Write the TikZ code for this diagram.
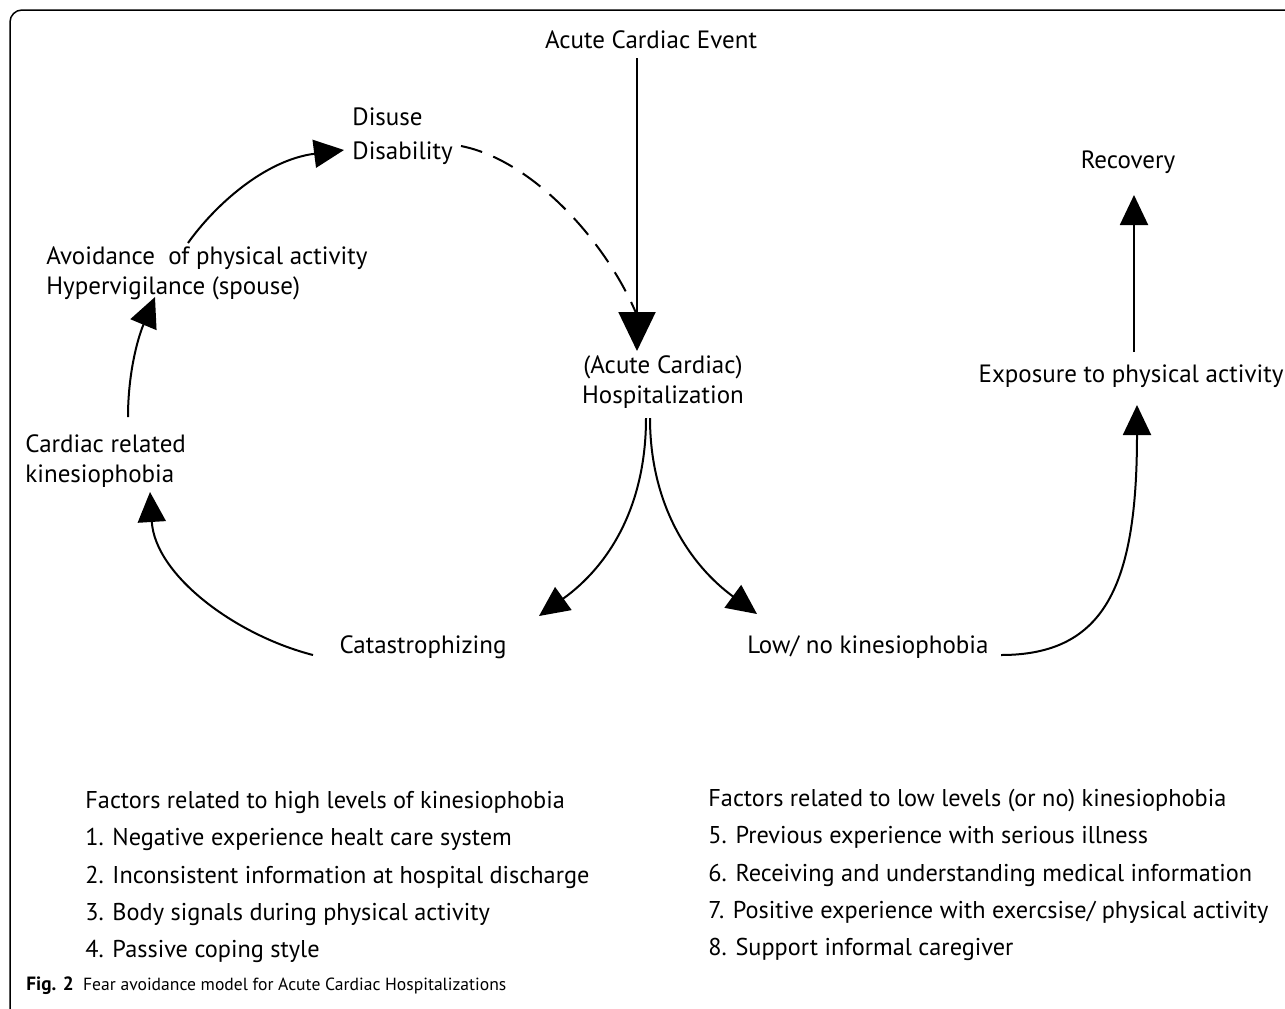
\documentclass[tikz,border=0pt]{standalone}
\usepackage{fontspec}
\setmainfont{PT Sans}
\usetikzlibrary{arrows.meta}
\begin{document}
\begin{tikzpicture}[x=0.5pt,y=-0.5pt,
  lbl/.style={inner sep=0pt, font=\fontsize{12.5}{15}\selectfont},
  lst/.style={inner sep=0pt, align=left, font=\fontsize{12.15}{18.6}\selectfont},
  conn/.style={line width=1pt},
  tip/.style={-{Triangle[length=15pt,width=14pt]}},
  bigtip/.style={-{Triangle[length=19.5pt,width=18.5pt]}}]
\useasboundingbox (0,0) rectangle (1285,1008);
\clip (0,0) rectangle (1285,1008);
\draw[line width=0.75pt, rounded corners=6pt] (1300,10) -- (10,10) -- (10,1025) -- (1300,1025);

% nodes
\node[lbl] (ace) at (651,40) {Acute Cardiac Event};
\node[lbl, align=left, anchor=west, font=\fontsize{12.5}{17}\selectfont] (dis) at (352,136) {Disuse\\Disability};
\node[lbl, align=left, anchor=west] (avoid) at (46,273) {Avoidance\ \ of physical activity\\Hypervigilance (spouse)};
\node[lbl, align=left, anchor=west] (crk) at (25,461) {Cardiac related\\kinesiophobia};
\node[lbl] (cat) at (423,647) {Catastrophizing};
\node[lbl, align=center] (hosp) at (663,382) {(Acute Cardiac)\\Hospitalization};
\node[lbl] (low) at (868,647) {Low/ no kinesiophobia};
\node[lbl] (exp) at (1131,376) {Exposure to physical activity};
\node[lbl] (rec) at (1128,162) {Recovery};

\node[lst, anchor=west] (hi) at (85,877) {Factors related to high levels of kinesiophobia\\1. Negative experience healt care system\\2. Inconsistent information at hospital discharge\\3. Body signals during physical activity\\4. Passive coping style};
\node[lst, anchor=west] (lo) at (708,875) {Factors related to low levels (or no) kinesiophobia\\5. Previous experience with serious illness\\6. Receiving and understanding medical information\\7. Positive experience with exercsise/ physical activity\\8. Support informal caregiver};

\node[inner sep=0pt, anchor=west, font=\fontsize{8.8}{10}\selectfont] (cap) at (26,986) {\textbf{\fontsize{9.6}{10}\selectfont Fig. 2}\ \ Fear avoidance model for Acute Cardiac Hospitalizations};

% connector end points
\coordinate (aceS) at (637,58);
\coordinate (hospT) at (637,351);
\coordinate (disE) at (461,146);
\coordinate (hospD) at (636,313);
\coordinate (avoidN) at (188,243);
\coordinate (disW) at (344,150);
\coordinate (crkN) at (128,417);
\coordinate (avoidS) at (155,297);
\coordinate (catW) at (313,655);
\coordinate (crkS) at (150,492);
\coordinate (hospSL) at (646,418);
\coordinate (catNE) at (539,616);
\coordinate (hospSR) at (650,418);
\coordinate (lowNW) at (757,614);
\coordinate (lowE) at (1001,655);
\coordinate (expS) at (1137,405);
\coordinate (expN) at (1134,352);
\coordinate (recS) at (1134,195);

% connectors
\draw[conn, bigtip] (aceS) -- (hospT);
\draw[conn, dash pattern=on 11pt off 6pt] (disE) .. controls (532,160) and (605,240) .. (hospD);
\draw[conn, tip] (avoidN) .. controls (215,205) and (265,160) .. (disW);
\draw[conn, tip] (crkN) .. controls (128,375) and (137,340) .. (avoidS);
\draw[conn, tip] (catW) .. controls (235,635) and (155,575) .. (crkS);
\draw[conn, tip] (hospSL) .. controls (646,505) and (610,565) .. (catNE);
\draw[conn, tip] (hospSR) .. controls (650,505) and (690,565) .. (lowNW);
\draw[conn, tip] (lowE) .. controls (1105,655) and (1137,585) .. (expS);
\draw[conn, tip] (expN) -- (recS);
\end{tikzpicture}
\end{document}
